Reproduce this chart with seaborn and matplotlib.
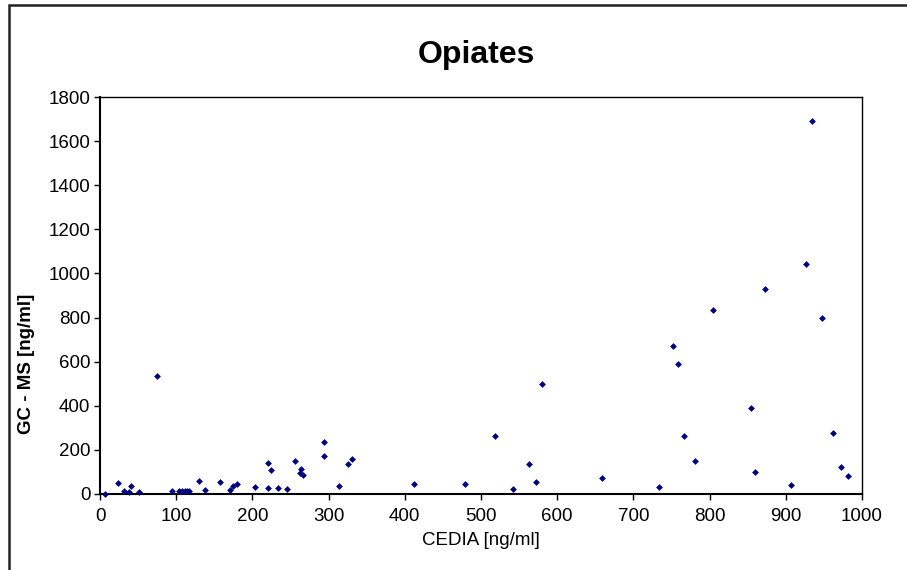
import pandas as pd
import matplotlib.pyplot as plt
import seaborn as sns
from matplotlib.patches import Rectangle

# Values
cedia = [7, 24, 31, 38, 41, 51, 75, 94, 104, 108, 111, 114, 117, 130, 138, 157,
         171, 175, 180, 203, 221, 224, 221, 234, 245, 256, 262, 264, 266, 294,
         294, 313, 326, 331, 412, 479, 519, 542, 563, 572, 580, 659, 733, 752,
         759, 766, 781, 805, 854, 860, 873, 907, 926, 934, 948, 962, 973, 982]
gcms = [2, 50, 14, 8, 35, 8, 535, 14, 12, 12, 14, 12, 12, 59, 18, 56,
        18, 38, 47, 30, 142, 110, 26, 26, 21, 150, 94, 112, 88, 236,
        174, 38, 135, 159, 47, 47, 261, 23, 136, 56, 499, 72, 30, 672,
        588, 261, 150, 836, 390, 101, 929, 39, 1041, 1691, 796, 278, 121, 82]

df = pd.DataFrame({'CEDIA': cedia, 'GCMS': gcms})

sns.set_style('ticks')
plt.rcParams['font.family'] = ['Liberation Sans', 'DejaVu Sans']
plt.rcParams['text.color'] = 'black'
plt.rcParams['axes.labelcolor'] = 'black'
plt.rcParams['xtick.color'] = 'black'
plt.rcParams['ytick.color'] = 'black'

fig = plt.figure(figsize=(9.07, 5.70), dpi=100)
ax = fig.add_axes([100 / 907, 1 - 494 / 570, 762 / 907, 397 / 570])

sns.scatterplot(data=df, x='CEDIA', y='GCMS', ax=ax, marker='D', s=12,
                color='#000080', linewidth=0, clip_on=False, zorder=3)

ax.set_xlim(0, 1000)
ax.set_ylim(0, 1800)
ax.set_xticks(range(0, 1001, 100))
ax.set_yticks(range(0, 1801, 200))
ax.tick_params(labelsize=13.5, length=4, width=1, color='black', pad=3)
ax.tick_params(axis='x', pad=6)
for s in ax.spines.values():
    s.set_color('black')
    s.set_linewidth(1)
ax.spines['bottom'].set_linewidth(1.5)
ax.spines['left'].set_linewidth(1.5)

ax.set_xlabel('CEDIA [ng/ml]', fontsize=13.5)
ax.set_ylabel('GC - MS [ng/ml]', fontsize=13.5, fontweight='bold')
ax.xaxis.set_label_coords(0.5, -0.096)
ax.yaxis.set_label_coords(-0.085, 0.327)
fig.text(476 / 907, 1 - 55 / 570, 'Opiates', ha='center', va='center',
         fontsize=23, fontweight='bold')

# Chart area border (top and left edges visible in the reference)
fig.patches.append(Rectangle((9 / 907, -0.1), 1.2, 1.1 - 5 / 570,
                             transform=fig.transFigure, fill=False,
                             edgecolor='#222222', linewidth=1.8))

fig.savefig('out.png', dpi=100)
